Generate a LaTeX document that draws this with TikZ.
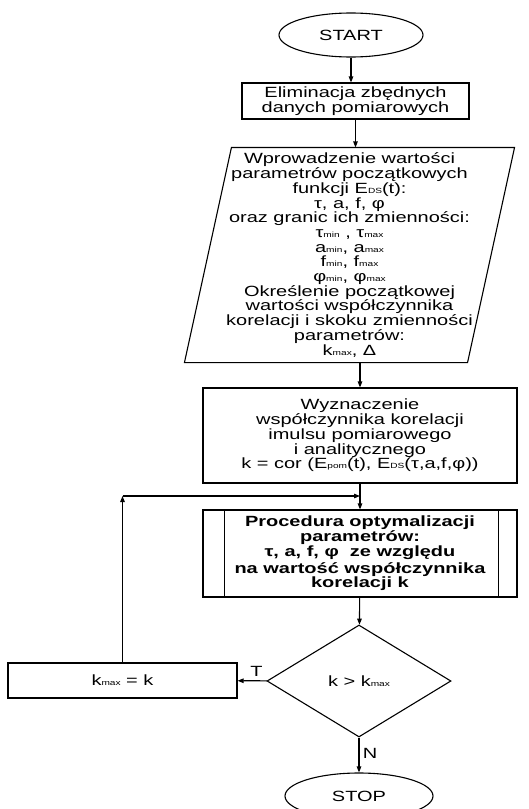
\documentclass[tikz,border=0pt]{standalone}
\usepackage{fontspec}
\setmainfont{Liberation Sans}[FakeStretch=1.35]
\usetikzlibrary{arrows.meta,positioning,shapes.geometric,calc}
\newcommand{\lo}[1]{{\fontsize{7.5}{7.5}\selectfont #1}}
\tikzset{
  box/.style={rectangle, draw=black, line width=1.1pt, align=center, inner sep=2pt,
              font=\fontsize{14.8}{14.7}\selectfont},
  term/.style={ellipse, draw=black, line width=1.1pt, minimum width=144pt, minimum height=44pt,
              font=\fontsize{14.8}{14.7}\selectfont},
  iobox/.style={box, draw=none},
  procbox/.style={box, font=\fontsize{14.8}{14.7}\selectfont\bfseries},
  decbox/.style={diamond, draw=black, line width=1.1pt, minimum width=184pt, minimum height=112pt,
              inner sep=0pt, font=\fontsize{14.8}{14.7}\selectfont},
  lbl/.style={font=\fontsize{14.8}{14.7}\selectfont},
  flow/.style={-{Triangle[length=6pt,width=4.5pt]}, draw=black, line width=1.1pt},
  line/.style={draw=black, line width=1.1pt}
}
\begin{document}
\begin{tikzpicture}[x=1pt, y=-1pt]
  \useasboundingbox (0,0) rectangle (529,809);
  \node[term] (start) at (351,35) {START};
  \node[box, minimum width=227pt, minimum height=36pt] (elim) at (355.5,101) {Eliminacja zbędnych\\danych pomiarowych};
  \node[iobox, minimum width=282pt, minimum height=214pt] (par) at (349.5,255) {Wprowadzenie wartości\\parametrów początkowych\\funkcji E\lo{DS}(t):\\τ, a, f, φ\\oraz granic ich zmienności:\\τ\lo{min} , τ\lo{max}\\a\lo{min}, a\lo{max}\\f\lo{min}, f\lo{max}\\φ\lo{min}, φ\lo{max}\\Określenie początkowej\\wartości współczynnika\\korelacji i skoku zmienności\\parametrów:\\k\lo{max}, Δ};
  \draw[line] ($(par.north west)+(23.5,0)$) -- ($(par.north east)+(23.5,0)$)
     -- ($(par.south east)+(-23.5,0)$) -- ($(par.south west)+(-23.5,0)$) -- cycle;
  \node[box, minimum width=314pt, minimum height=95pt] (wyz) at (360,435.5) {Wyznaczenie\\współczynnika korelacji\\imulsu pomiarowego\\i analitycznego\\k = cor (E\lo{pom}(t), E\lo{DS}(τ,a,f,φ))};
  \node[procbox, minimum width=314pt, minimum height=87pt] (proc) at (360,553.5) {Procedura optymalizacji\\parametrów:\\τ, a, f, φ~ ze względu\\[2pt]na wartość współczynnika\\korelacji k};
  \draw[line] ($(proc.north west)+(22,0)$) -- ($(proc.south west)+(22,0)$);
  \draw[line] ($(proc.north east)+(-19,0)$) -- ($(proc.south east)+(-19,0)$);
  \node[decbox] (dec) at (359,681) {k > k\lo{max}};
  \node[box, minimum width=229pt, minimum height=35pt] (kmax) at (122.5,680.5) {k\lo{max} = k};
  \node[term, minimum width=148pt, minimum height=46pt] (stop) at (359,796) {STOP};
  \coordinate (loop) at (122.5,496);
  \draw[flow] (start) -- (start |- elim.north);
  \draw[flow] (elim) -- (elim |- par.north);
  \draw[flow] (wyz |- par.south) -- (wyz.north);
  \draw[flow] (wyz) -- (proc);
  \draw[flow] (kmax) -- (loop);
  \draw[flow] (loop) -- (wyz.south |- loop);
  \draw[flow] (proc) -- (dec);
  \draw[flow] (dec) -- node[lbl, above, pos=0.35] {T} (kmax);
  \draw[flow] (dec.south) -- node[lbl, right, pos=0.45] {N} (stop.north);
\end{tikzpicture}
\end{document}
